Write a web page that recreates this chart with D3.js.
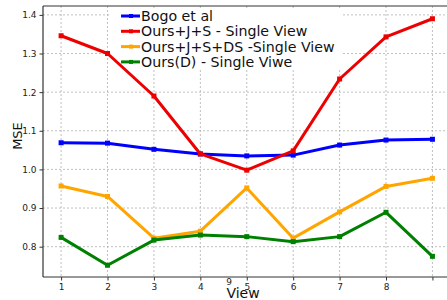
<!DOCTYPE html>
<html><head><meta charset="utf-8">
<script src="https://cdn.jsdelivr.net/npm/d3@7"></script>
<style>body{margin:0;background:#fff}svg{display:block;font-family:"DejaVu Sans",sans-serif}</style>
</head><body><svg id="c" width="447" height="300"></svg>
<script>
const views = [1,2,3,4,5,6,7,8,9];
const xTickLabels = ["1","2","3","4","5","6","7","8",""];
const yTicks = [0.8,0.9,1.0,1.1,1.2,1.3,1.4];
const seriesNames = ["Bogo et al","Ours+J+S - Single View","Ours+J+S+DS -Single View","Ours(D) - Single Viwe"];
const seriesColors = ["#0000ff","#ee0000","#ffa500","#008000"];
const bogo = [1.069,1.068,1.052,1.040,1.035,1.037,1.063,1.076,1.078];
const oursJS = [1.346,1.300,1.190,1.040,0.998,1.048,1.234,1.343,1.390];
const oursJSDS = [0.957,0.930,0.822,0.840,0.952,0.822,0.890,0.956,0.977];
const oursD = [0.824,0.752,0.817,0.830,0.826,0.813,0.826,0.889,0.775];
const allSeries = [bogo,oursJS,oursJSDS,oursD];

const svg = d3.select("#c");
const L=43, T=6, R=451, B=277;
const x = d3.scaleLinear().domain([0.61,9.4]).range([L,R]);
const y = d3.scaleLinear().domain([0.7215,1.423]).range([B,T]);

const g = svg.append("g");
g.selectAll(".gx").data(views).join("line")
 .attr("x1",d=>x(d)).attr("x2",d=>x(d)).attr("y1",T).attr("y2",B)
 .attr("stroke","#b0b0b0").attr("stroke-width",0.8).attr("stroke-dasharray","2,2");
g.selectAll(".gy").data(yTicks).join("line")
 .attr("x1",L).attr("x2",R).attr("y1",d=>y(d)).attr("y2",d=>y(d))
 .attr("stroke","#b0b0b0").attr("stroke-width",0.8).attr("stroke-dasharray","2,2");

svg.append("rect").attr("x",110).attr("y",8).attr("width",232).attr("height",62).attr("fill","#fff");

const line = d3.line().x((d,i)=>x(views[i])).y(d=>y(d));
allSeries.forEach((s,k)=>{
  svg.append("path").datum(s).attr("d",line).attr("fill","none")
   .attr("stroke",seriesColors[k]).attr("stroke-width",3).attr("stroke-linejoin","round");
  svg.selectAll(null).data(s).join("rect")
   .attr("x",(d,i)=>x(views[i])-2.5).attr("y",d=>y(d)-2.5).attr("width",5).attr("height",5)
   .attr("fill",seriesColors[k]);
});

const yAxis = d3.axisLeft(y).tickValues(yTicks).tickFormat(d3.format(".1f")).tickSize(3.5).tickPadding(3);
const ya = svg.append("g").attr("transform",`translate(${L},0)`).call(yAxis);
const xAxis = d3.axisBottom(x).tickValues(views).tickFormat((d,i)=>xTickLabels[i]).tickSize(3.5).tickPadding(3);
const xa = svg.append("g").attr("transform",`translate(0,${B})`).call(xAxis);
[ya,xa].forEach(a=>{
  a.select(".domain").remove();
  a.selectAll("text").attr("font-size",9).attr("fill","#222").attr("font-family","DejaVu Sans");
  a.selectAll("line").attr("stroke","#333");
});
svg.append("line").attr("x1",L).attr("x2",L).attr("y1",T).attr("y2",B).attr("stroke","#333").attr("stroke-width",1.2);
svg.append("line").attr("x1",L).attr("x2",R).attr("y1",B).attr("y2",B).attr("stroke","#333").attr("stroke-width",1.2);
svg.append("line").attr("x1",L).attr("x2",R).attr("y1",T).attr("y2",T).attr("stroke","#333").attr("stroke-width",1.2);

svg.append("text").attr("x",229).attr("y",285).attr("text-anchor","middle").attr("font-size",9).attr("fill","#222").text("9");

svg.append("text").attr("x",243).attr("y",297.5).attr("text-anchor","middle").attr("font-size",14).attr("fill","#111").text("View");
svg.append("text").attr("transform","translate(22,136) rotate(-90)").attr("text-anchor","middle").attr("font-size",13).attr("fill","#111").text("MSE");

const lg = svg.append("g");
seriesNames.forEach((n,k)=>{
  const yy = 16 + k*15.3;
  lg.append("line").attr("x1",121).attr("x2",140).attr("y1",yy).attr("y2",yy).attr("stroke",seriesColors[k]).attr("stroke-width",3);
  lg.append("rect").attr("x",129).attr("y",yy-2).attr("width",4).attr("height",4).attr("fill",seriesColors[k]);
  lg.append("text").attr("x",141).attr("y",yy+5).attr("font-size",14.2).attr("fill","#111").text(n);
});
</script></body></html>
